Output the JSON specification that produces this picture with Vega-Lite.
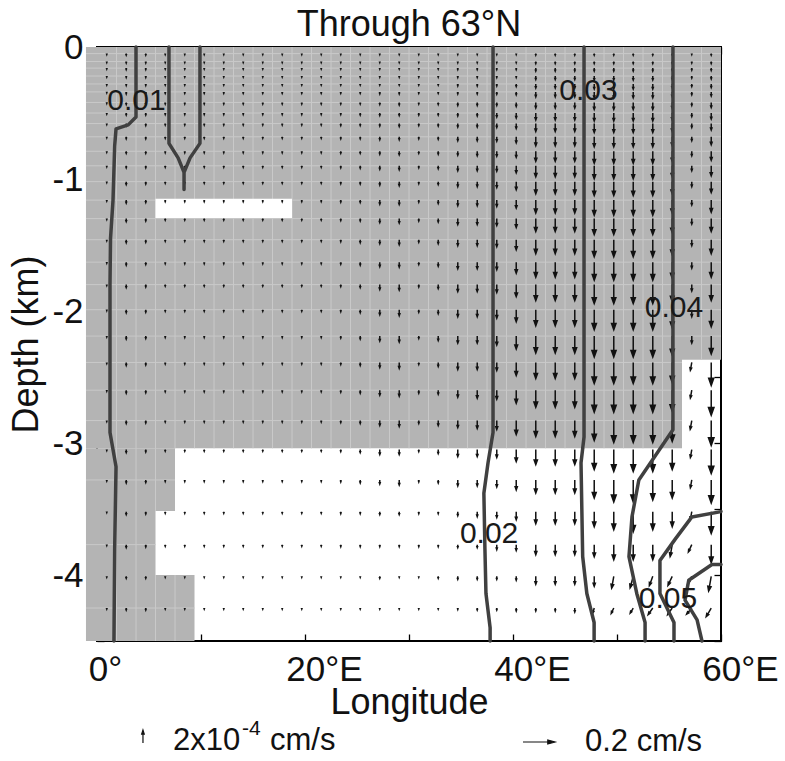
{
"$schema":"https://vega.github.io/schema/vega-lite/v6.json",
"width":624,"height":594,"autosize":"none",
"padding":{"left":97,"top":47,"right":64,"bottom":120},
"background":"white",
"title":{"text":"Through 63°N","fontSize":36,"font":"Liberation Sans","fontWeight":"normal","color":"#111","offset":-14,"anchor":"middle","frame":"group"},
"config":{"view":{"stroke":"#000","strokeWidth":2},"font":"Liberation Sans",
"axis":{"labelFont":"Liberation Sans","titleFont":"Liberation Sans","labelFontSize":35,"titleFontSize":36,"titleFontWeight":"normal","labelColor":"#111","titleColor":"#111","tickColor":"#000","tickWidth":1.3,"tickSize":-7,"domain":false,"grid":false,"labelOverlap":false,"labelFlush":false}},
"datasets":{
"gray":[{"x":-1.06,"x2":56.25,"z":0,"z2":-3.04},{"x":56.25,"x2":60,"z":0,"z2":-2.37},{"x":-1.06,"x2":7.5,"z":-3.04,"z2":-3.515},{"x":-1.06,"x2":5.625,"z":-3.515,"z2":-4.0},{"x":-1.06,"x2":9.375,"z":-4.0,"z2":-4.5}],
"bar":[{"x":5.625,"x2":18.75,"z":-1.15,"z2":-1.295}],
"vgrid":[{"x":1.875,"z":0,"z2":-3.04},{"x":3.75,"z":0,"z2":-3.04},{"x":5.625,"z":0,"z2":-3.04},{"x":7.5,"z":0,"z2":-3.04},{"x":9.375,"z":0,"z2":-3.04},{"x":11.25,"z":0,"z2":-3.04},{"x":13.125,"z":0,"z2":-3.04},{"x":15,"z":0,"z2":-3.04},{"x":16.875,"z":0,"z2":-3.04},{"x":18.75,"z":0,"z2":-3.04},{"x":20.625,"z":0,"z2":-3.04},{"x":22.5,"z":0,"z2":-3.04},{"x":24.375,"z":0,"z2":-3.04},{"x":26.25,"z":0,"z2":-3.04},{"x":28.125,"z":0,"z2":-3.04},{"x":30,"z":0,"z2":-3.04},{"x":31.875,"z":0,"z2":-3.04},{"x":33.75,"z":0,"z2":-3.04},{"x":35.625,"z":0,"z2":-3.04},{"x":37.5,"z":0,"z2":-3.04},{"x":39.375,"z":0,"z2":-3.04},{"x":41.25,"z":0,"z2":-3.04},{"x":43.125,"z":0,"z2":-3.04},{"x":45,"z":0,"z2":-3.04},{"x":46.875,"z":0,"z2":-3.04},{"x":48.75,"z":0,"z2":-3.04},{"x":50.625,"z":0,"z2":-3.04},{"x":52.5,"z":0,"z2":-3.04},{"x":54.375,"z":0,"z2":-3.04},{"x":58.125,"z":0,"z2":-2.37},{"x":1.875,"z":-3.04,"z2":-4.5},{"x":3.75,"z":-3.04,"z2":-4.5},{"x":5.625,"z":-3.04,"z2":-3.515},{"x":5.625,"z":-4,"z2":-4.5},{"x":7.5,"z":-4,"z2":-4.5}],
"hgrid":[{"z":-0.05,"x":-1.06,"x2":60},{"z":-0.11,"x":-1.06,"x2":60},{"z":-0.16,"x":-1.06,"x2":60},{"z":-0.22,"x":-1.06,"x2":60},{"z":-0.28,"x":-1.06,"x2":60},{"z":-0.34,"x":-1.06,"x2":60},{"z":-0.42,"x":-1.06,"x2":60},{"z":-0.5,"x":-1.06,"x2":60},{"z":-0.58,"x":-1.06,"x2":60},{"z":-0.68,"x":-1.06,"x2":60},{"z":-0.79,"x":-1.06,"x2":60},{"z":-0.9,"x":-1.06,"x2":60},{"z":-1.02,"x":-1.06,"x2":60},{"z":-1.16,"x":-1.06,"x2":60},{"z":-1.3,"x":-1.06,"x2":60},{"z":-1.46,"x":-1.06,"x2":60},{"z":-1.63,"x":-1.06,"x2":60},{"z":-1.8,"x":-1.06,"x2":60},{"z":-1.99,"x":-1.06,"x2":60},{"z":-2.19,"x":-1.06,"x2":60},{"z":-2.39,"x":-1.06,"x2":56.25},{"z":-2.6,"x":-1.06,"x2":56.25},{"z":-2.83,"x":-1.06,"x2":56.25},{"z":-3.28,"x":-1.06,"x2":7.5},{"z":-3.77,"x":-1.06,"x2":5.625},{"z":-4.25,"x":-1.06,"x2":9.375}],
"arrows":[
{"x":0.94,"z":-0.05,"w":0.15},{"x":2.81,"z":-0.05,"w":0.23},{"x":4.69,"z":-0.05,"w":0.23},{"x":6.56,"z":-0.05,"w":0.15},{"x":8.44,"z":-0.05,"w":0.15},{"x":10.31,"z":-0.05,"w":0.15},{"x":12.19,"z":-0.05,"w":0.15},{"x":14.06,"z":-0.05,"w":0.15},{"x":15.94,"z":-0.05,"w":0.15},{"x":17.81,"z":-0.05,"w":0.15},{"x":19.69,"z":-0.05,"w":0.15},{"x":21.56,"z":-0.05,"w":0.15},{"x":23.44,"z":-0.05,"w":0.15},{"x":25.31,"z":-0.05,"w":0.15},{"x":27.19,"z":-0.05,"w":0.15},{"x":29.06,"z":-0.05,"w":0.15},{"x":30.94,"z":-0.05,"w":0.15},{"x":32.81,"z":-0.05,"w":0.15},{"x":34.69,"z":-0.05,"w":0.15},{"x":36.56,"z":-0.05,"w":0.15},{"x":38.44,"z":-0.05,"w":0.15},{"x":40.31,"z":-0.05,"w":0.15},{"x":42.19,"z":-0.05,"w":0.23},{"x":44.06,"z":-0.05,"w":0.23},{"x":45.94,"z":-0.05,"w":0.23},{"x":47.81,"z":-0.05,"w":0.23},{"x":49.69,"z":-0.05,"w":0.23},{"x":51.56,"z":-0.05,"w":0.23},{"x":53.44,"z":-0.05,"w":0.23},{"x":55.31,"z":-0.05,"w":0.23},{"x":57.19,"z":-0.05,"w":0.15},{"x":59.06,"z":-0.05,"w":0.23},
{"x":0.94,"z":-0.11,"w":0.15},{"x":2.81,"z":-0.11,"w":0.23},{"x":4.69,"z":-0.11,"w":0.23},{"x":6.56,"z":-0.11,"w":0.15},{"x":8.44,"z":-0.11,"w":0.15},{"x":10.31,"z":-0.11,"w":0.15},{"x":12.19,"z":-0.11,"w":0.15},{"x":14.06,"z":-0.11,"w":0.15},{"x":15.94,"z":-0.11,"w":0.15},{"x":17.81,"z":-0.11,"w":0.15},{"x":19.69,"z":-0.11,"w":0.15},{"x":21.56,"z":-0.11,"w":0.15},{"x":23.44,"z":-0.11,"w":0.15},{"x":25.31,"z":-0.11,"w":0.15},{"x":27.19,"z":-0.11,"w":0.15},{"x":29.06,"z":-0.11,"w":0.15},{"x":30.94,"z":-0.11,"w":0.15},{"x":32.81,"z":-0.11,"w":0.15},{"x":34.69,"z":-0.11,"w":0.18},{"x":36.56,"z":-0.11,"w":0.18},{"x":38.44,"z":-0.11,"w":0.18},{"x":40.31,"z":-0.11,"w":0.18},{"x":42.19,"z":-0.11,"w":0.31},{"x":44.06,"z":-0.11,"w":0.31},{"x":45.94,"z":-0.11,"w":0.31},{"x":47.81,"z":-0.11,"w":0.31},{"x":49.69,"z":-0.11,"w":0.31},{"x":51.56,"z":-0.11,"w":0.31},{"x":53.44,"z":-0.11,"w":0.31},{"x":55.31,"z":-0.11,"w":0.31},{"x":57.19,"z":-0.11,"w":0.23},{"x":59.06,"z":-0.11,"w":0.31},
{"x":0.94,"z":-0.16,"w":0.15},{"x":2.81,"z":-0.16,"w":0.23},{"x":4.69,"z":-0.16,"w":0.23},{"x":6.56,"z":-0.16,"w":0.15},{"x":8.44,"z":-0.16,"w":0.15},{"x":10.31,"z":-0.16,"w":0.15},{"x":12.19,"z":-0.16,"w":0.15},{"x":14.06,"z":-0.16,"w":0.15},{"x":15.94,"z":-0.16,"w":0.15},{"x":17.81,"z":-0.16,"w":0.15},{"x":19.69,"z":-0.16,"w":0.15},{"x":21.56,"z":-0.16,"w":0.15},{"x":23.44,"z":-0.16,"w":0.15},{"x":25.31,"z":-0.16,"w":0.15},{"x":27.19,"z":-0.16,"w":0.15},{"x":29.06,"z":-0.16,"w":0.15},{"x":30.94,"z":-0.16,"w":0.15},{"x":32.81,"z":-0.16,"w":0.15},{"x":34.69,"z":-0.16,"w":0.23},{"x":36.56,"z":-0.16,"w":0.23},{"x":38.44,"z":-0.16,"w":0.23},{"x":40.31,"z":-0.16,"w":0.23},{"x":42.19,"z":-0.16,"w":0.46},{"x":44.06,"z":-0.16,"w":0.46},{"x":45.94,"z":-0.16,"w":0.46},{"x":47.81,"z":-0.16,"w":0.46},{"x":49.69,"z":-0.16,"w":0.46},{"x":51.56,"z":-0.16,"w":0.46},{"x":53.44,"z":-0.16,"w":0.46},{"x":55.31,"z":-0.16,"w":0.38},{"x":57.19,"z":-0.16,"w":0.31},{"x":59.06,"z":-0.16,"w":0.38},
{"x":0.94,"z":-0.22,"w":0.15},{"x":2.81,"z":-0.22,"w":0.23},{"x":4.69,"z":-0.22,"w":0.23},{"x":6.56,"z":-0.22,"w":0.15},{"x":8.44,"z":-0.22,"w":0.15},{"x":10.31,"z":-0.22,"w":0.15},{"x":12.19,"z":-0.22,"w":0.15},{"x":14.06,"z":-0.22,"w":0.15},{"x":15.94,"z":-0.22,"w":0.15},{"x":17.81,"z":-0.22,"w":0.15},{"x":19.69,"z":-0.22,"w":0.15},{"x":21.56,"z":-0.22,"w":0.15},{"x":23.44,"z":-0.22,"w":0.18},{"x":25.31,"z":-0.22,"w":0.18},{"x":27.19,"z":-0.22,"w":0.18},{"x":29.06,"z":-0.22,"w":0.18},{"x":30.94,"z":-0.22,"w":0.18},{"x":32.81,"z":-0.22,"w":0.18},{"x":34.69,"z":-0.22,"w":0.23},{"x":36.56,"z":-0.22,"w":0.23},{"x":38.44,"z":-0.22,"w":0.23},{"x":40.31,"z":-0.22,"w":0.23},{"x":42.19,"z":-0.22,"w":0.54},{"x":44.06,"z":-0.22,"w":0.54},{"x":45.94,"z":-0.22,"w":0.54},{"x":47.81,"z":-0.22,"w":0.62},{"x":49.69,"z":-0.22,"w":0.62},{"x":51.56,"z":-0.22,"w":0.62},{"x":53.44,"z":-0.22,"w":0.62},{"x":55.31,"z":-0.22,"w":0.54},{"x":57.19,"z":-0.22,"w":0.31},{"x":59.06,"z":-0.22,"w":0.46},
{"x":0.94,"z":-0.28,"w":0.15},{"x":2.81,"z":-0.28,"w":0.23},{"x":4.69,"z":-0.28,"w":0.23},{"x":6.56,"z":-0.28,"w":0.15},{"x":8.44,"z":-0.28,"w":0.15},{"x":10.31,"z":-0.28,"w":0.15},{"x":12.19,"z":-0.28,"w":0.15},{"x":14.06,"z":-0.28,"w":0.15},{"x":15.94,"z":-0.28,"w":0.15},{"x":17.81,"z":-0.28,"w":0.15},{"x":19.69,"z":-0.28,"w":0.15},{"x":21.56,"z":-0.28,"w":0.15},{"x":23.44,"z":-0.28,"w":0.18},{"x":25.31,"z":-0.28,"w":0.18},{"x":27.19,"z":-0.28,"w":0.18},{"x":29.06,"z":-0.28,"w":0.18},{"x":30.94,"z":-0.28,"w":0.18},{"x":32.81,"z":-0.28,"w":0.18},{"x":34.69,"z":-0.28,"w":0.31},{"x":36.56,"z":-0.28,"w":0.31},{"x":38.44,"z":-0.28,"w":0.31},{"x":40.31,"z":-0.28,"w":0.38},{"x":42.19,"z":-0.28,"w":0.62},{"x":44.06,"z":-0.28,"w":0.62},{"x":45.94,"z":-0.28,"w":0.62},{"x":47.81,"z":-0.28,"w":0.77},{"x":49.69,"z":-0.28,"w":0.77},{"x":51.56,"z":-0.28,"w":0.77},{"x":53.44,"z":-0.28,"w":0.77},{"x":55.31,"z":-0.28,"w":0.62},{"x":57.19,"z":-0.28,"w":0.38},{"x":59.06,"z":-0.28,"w":0.54},
{"x":0.94,"z":-0.34,"w":0.15},{"x":2.81,"z":-0.34,"w":0.31},{"x":4.69,"z":-0.34,"w":0.31},{"x":6.56,"z":-0.34,"w":0.23},{"x":8.44,"z":-0.34,"w":0.23},{"x":10.31,"z":-0.34,"w":0.23},{"x":12.19,"z":-0.34,"w":0.23},{"x":14.06,"z":-0.34,"w":0.23},{"x":15.94,"z":-0.34,"w":0.23},{"x":17.81,"z":-0.34,"w":0.23},{"x":19.69,"z":-0.34,"w":0.23},{"x":21.56,"z":-0.34,"w":0.23},{"x":23.44,"z":-0.34,"w":0.23},{"x":25.31,"z":-0.34,"w":0.23},{"x":27.19,"z":-0.34,"w":0.31},{"x":29.06,"z":-0.34,"w":0.31},{"x":30.94,"z":-0.34,"w":0.23},{"x":32.81,"z":-0.34,"w":0.23},{"x":34.69,"z":-0.34,"w":0.31},{"x":36.56,"z":-0.34,"w":0.31},{"x":38.44,"z":-0.34,"w":0.38},{"x":40.31,"z":-0.34,"w":0.46},{"x":42.19,"z":-0.34,"w":0.77},{"x":44.06,"z":-0.34,"w":0.77},{"x":45.94,"z":-0.34,"w":0.77},{"x":47.81,"z":-0.34,"w":0.92},{"x":49.69,"z":-0.34,"w":0.92},{"x":51.56,"z":-0.34,"w":0.92},{"x":53.44,"z":-0.34,"w":0.92},{"x":55.31,"z":-0.34,"w":0.77},{"x":57.19,"z":-0.34,"w":0.46},{"x":59.06,"z":-0.34,"w":0.62},
{"x":0.94,"z":-0.42,"w":0.15},{"x":2.81,"z":-0.42,"w":0.31},{"x":4.69,"z":-0.42,"w":0.31},{"x":6.56,"z":-0.42,"w":0.23},{"x":8.44,"z":-0.42,"w":0.23},{"x":10.31,"z":-0.42,"w":0.23},{"x":12.19,"z":-0.42,"w":0.23},{"x":14.06,"z":-0.42,"w":0.23},{"x":15.94,"z":-0.42,"w":0.23},{"x":17.81,"z":-0.42,"w":0.23},{"x":19.69,"z":-0.42,"w":0.23},{"x":21.56,"z":-0.42,"w":0.23},{"x":23.44,"z":-0.42,"w":0.23},{"x":25.31,"z":-0.42,"w":0.23},{"x":27.19,"z":-0.42,"w":0.31},{"x":29.06,"z":-0.42,"w":0.38},{"x":30.94,"z":-0.42,"w":0.23},{"x":32.81,"z":-0.42,"w":0.31},{"x":34.69,"z":-0.42,"w":0.46},{"x":36.56,"z":-0.42,"w":0.46},{"x":38.44,"z":-0.42,"w":0.46},{"x":40.31,"z":-0.42,"w":0.62},{"x":42.19,"z":-0.42,"w":0.85},{"x":44.06,"z":-0.42,"w":0.85},{"x":45.94,"z":-0.42,"w":0.85},{"x":47.81,"z":-0.42,"w":1.08},{"x":49.69,"z":-0.42,"w":1.08},{"x":51.56,"z":-0.42,"w":1.08},{"x":53.44,"z":-0.42,"w":1.08},{"x":55.31,"z":-0.42,"w":0.92},{"x":57.19,"z":-0.42,"w":0.46},{"x":59.06,"z":-0.42,"w":0.77},
{"x":0.94,"z":-0.5,"w":0.15},{"x":2.81,"z":-0.5,"w":0.31},{"x":4.69,"z":-0.5,"w":0.31},{"x":6.56,"z":-0.5,"w":0.23},{"x":8.44,"z":-0.5,"w":0.23},{"x":10.31,"z":-0.5,"w":0.23},{"x":12.19,"z":-0.5,"w":0.23},{"x":14.06,"z":-0.5,"w":0.23},{"x":15.94,"z":-0.5,"w":0.23},{"x":17.81,"z":-0.5,"w":0.23},{"x":19.69,"z":-0.5,"w":0.23},{"x":21.56,"z":-0.5,"w":0.23},{"x":23.44,"z":-0.5,"w":0.23},{"x":25.31,"z":-0.5,"w":0.31},{"x":27.19,"z":-0.5,"w":0.38},{"x":29.06,"z":-0.5,"w":0.38},{"x":30.94,"z":-0.5,"w":0.31},{"x":32.81,"z":-0.5,"w":0.31},{"x":34.69,"z":-0.5,"w":0.46},{"x":36.56,"z":-0.5,"w":0.46},{"x":38.44,"z":-0.5,"w":0.62},{"x":40.31,"z":-0.5,"w":0.77},{"x":42.19,"z":-0.5,"w":1.08},{"x":44.06,"z":-0.5,"w":1.08},{"x":45.94,"z":-0.5,"w":1.08},{"x":47.81,"z":-0.5,"w":1.23},{"x":49.69,"z":-0.5,"w":1.23},{"x":51.56,"z":-0.5,"w":1.23},{"x":53.44,"z":-0.5,"w":1.23},{"x":55.31,"z":-0.5,"w":1.08},{"x":57.19,"z":-0.5,"w":0.54},{"x":59.06,"z":-0.5,"w":0.92},
{"x":0.94,"z":-0.58,"w":0.15},{"x":2.81,"z":-0.58,"w":0.31},{"x":4.69,"z":-0.58,"w":0.31},{"x":6.56,"z":-0.58,"w":0.23},{"x":8.44,"z":-0.58,"w":0.23},{"x":10.31,"z":-0.58,"w":0.23},{"x":12.19,"z":-0.58,"w":0.23},{"x":14.06,"z":-0.58,"w":0.23},{"x":15.94,"z":-0.58,"w":0.23},{"x":17.81,"z":-0.58,"w":0.23},{"x":19.69,"z":-0.58,"w":0.23},{"x":21.56,"z":-0.58,"w":0.23},{"x":23.44,"z":-0.58,"w":0.31},{"x":25.31,"z":-0.58,"w":0.31},{"x":27.19,"z":-0.58,"w":0.38},{"x":29.06,"z":-0.58,"w":0.46},{"x":30.94,"z":-0.58,"w":0.31},{"x":32.81,"z":-0.58,"w":0.38},{"x":34.69,"z":-0.58,"w":0.54},{"x":36.56,"z":-0.58,"w":0.54},{"x":38.44,"z":-0.58,"w":0.62},{"x":40.31,"z":-0.58,"w":0.77},{"x":42.19,"z":-0.58,"w":1.23},{"x":44.06,"z":-0.58,"w":1.23},{"x":45.94,"z":-0.58,"w":1.23},{"x":47.81,"z":-0.58,"w":1.38},{"x":49.69,"z":-0.58,"w":1.38},{"x":51.56,"z":-0.58,"w":1.38},{"x":53.44,"z":-0.58,"w":1.38},{"x":55.31,"z":-0.58,"w":1.23},{"x":57.19,"z":-0.58,"w":0.62},{"x":59.06,"z":-0.58,"w":1.0},
{"x":0.94,"z":-0.68,"w":0.15},{"x":2.81,"z":-0.68,"w":0.31},{"x":4.69,"z":-0.68,"w":0.31},{"x":6.56,"z":-0.68,"w":0.23},{"x":8.44,"z":-0.68,"w":0.23},{"x":10.31,"z":-0.68,"w":0.23},{"x":12.19,"z":-0.68,"w":0.23},{"x":14.06,"z":-0.68,"w":0.23},{"x":15.94,"z":-0.68,"w":0.23},{"x":17.81,"z":-0.68,"w":0.23},{"x":19.69,"z":-0.68,"w":0.23},{"x":21.56,"z":-0.68,"w":0.23},{"x":23.44,"z":-0.68,"w":0.31},{"x":25.31,"z":-0.68,"w":0.31},{"x":27.19,"z":-0.68,"w":0.46},{"x":29.06,"z":-0.68,"w":0.46},{"x":30.94,"z":-0.68,"w":0.31},{"x":32.81,"z":-0.68,"w":0.38},{"x":34.69,"z":-0.68,"w":0.62},{"x":36.56,"z":-0.68,"w":0.62},{"x":38.44,"z":-0.68,"w":0.69},{"x":40.31,"z":-0.68,"w":0.92},{"x":42.19,"z":-0.68,"w":1.38},{"x":44.06,"z":-0.68,"w":1.38},{"x":45.94,"z":-0.68,"w":1.38},{"x":47.81,"z":-0.68,"w":1.54},{"x":49.69,"z":-0.68,"w":1.54},{"x":51.56,"z":-0.68,"w":1.54},{"x":53.44,"z":-0.68,"w":1.54},{"x":55.31,"z":-0.68,"w":1.38},{"x":57.19,"z":-0.68,"w":0.62},{"x":59.06,"z":-0.68,"w":1.23},
{"x":0.94,"z":-0.79,"w":0.15},{"x":2.81,"z":-0.79,"w":0.31},{"x":4.69,"z":-0.79,"w":0.31},{"x":6.56,"z":-0.79,"w":0.23},{"x":8.44,"z":-0.79,"w":0.23},{"x":10.31,"z":-0.79,"w":0.23},{"x":12.19,"z":-0.79,"w":0.23},{"x":14.06,"z":-0.79,"w":0.23},{"x":15.94,"z":-0.79,"w":0.23},{"x":17.81,"z":-0.79,"w":0.23},{"x":19.69,"z":-0.79,"w":0.23},{"x":21.56,"z":-0.79,"w":0.23},{"x":23.44,"z":-0.79,"w":0.31},{"x":25.31,"z":-0.79,"w":0.31},{"x":27.19,"z":-0.79,"w":0.46},{"x":29.06,"z":-0.79,"w":0.54},{"x":30.94,"z":-0.79,"w":0.31},{"x":32.81,"z":-0.79,"w":0.46},{"x":34.69,"z":-0.79,"w":0.62},{"x":36.56,"z":-0.79,"w":0.69},{"x":38.44,"z":-0.79,"w":0.77},{"x":40.31,"z":-0.79,"w":0.92},{"x":42.19,"z":-0.79,"w":1.54},{"x":44.06,"z":-0.79,"w":1.54},{"x":45.94,"z":-0.79,"w":1.54},{"x":47.81,"z":-0.79,"w":1.85},{"x":49.69,"z":-0.79,"w":1.85},{"x":51.56,"z":-0.79,"w":1.85},{"x":53.44,"z":-0.79,"w":1.85},{"x":55.31,"z":-0.79,"w":1.54},{"x":57.19,"z":-0.79,"w":0.69},{"x":59.06,"z":-0.79,"w":1.38},
{"x":0.94,"z":-0.9,"w":0.15},{"x":2.81,"z":-0.9,"w":0.31},{"x":4.69,"z":-0.9,"w":0.31},{"x":6.56,"z":-0.9,"w":0.23},{"x":8.44,"z":-0.9,"w":0.23},{"x":10.31,"z":-0.9,"w":0.23},{"x":12.19,"z":-0.9,"w":0.23},{"x":14.06,"z":-0.9,"w":0.23},{"x":15.94,"z":-0.9,"w":0.23},{"x":17.81,"z":-0.9,"w":0.23},{"x":19.69,"z":-0.9,"w":0.23},{"x":21.56,"z":-0.9,"w":0.23},{"x":23.44,"z":-0.9,"w":0.31},{"x":25.31,"z":-0.9,"w":0.38},{"x":27.19,"z":-0.9,"w":0.54},{"x":29.06,"z":-0.9,"w":0.62},{"x":30.94,"z":-0.9,"w":0.31},{"x":32.81,"z":-0.9,"w":0.46},{"x":34.69,"z":-0.9,"w":0.77},{"x":36.56,"z":-0.9,"w":0.77},{"x":38.44,"z":-0.9,"w":0.85},{"x":40.31,"z":-0.9,"w":1.08},{"x":42.19,"z":-0.9,"w":1.69},{"x":44.06,"z":-0.9,"w":1.69},{"x":45.94,"z":-0.9,"w":1.69},{"x":47.81,"z":-0.9,"w":2.0},{"x":49.69,"z":-0.9,"w":2.0},{"x":51.56,"z":-0.9,"w":2.0},{"x":53.44,"z":-0.9,"w":2.0},{"x":55.31,"z":-0.9,"w":1.69},{"x":57.19,"z":-0.9,"w":0.77},{"x":59.06,"z":-0.9,"w":1.54},
{"x":0.94,"z":-1.02,"w":0.15},{"x":2.81,"z":-1.02,"w":0.46},{"x":4.69,"z":-1.02,"w":0.38},{"x":6.56,"z":-1.02,"w":0.23},{"x":8.44,"z":-1.02,"w":0.23},{"x":10.31,"z":-1.02,"w":0.23},{"x":12.19,"z":-1.02,"w":0.23},{"x":14.06,"z":-1.02,"w":0.23},{"x":15.94,"z":-1.02,"w":0.23},{"x":17.81,"z":-1.02,"w":0.23},{"x":19.69,"z":-1.02,"w":0.23},{"x":21.56,"z":-1.02,"w":0.23},{"x":23.44,"z":-1.02,"w":0.31},{"x":25.31,"z":-1.02,"w":0.38},{"x":27.19,"z":-1.02,"w":0.54},{"x":29.06,"z":-1.02,"w":0.62},{"x":30.94,"z":-1.02,"w":0.31},{"x":32.81,"z":-1.02,"w":0.46},{"x":34.69,"z":-1.02,"w":0.77},{"x":36.56,"z":-1.02,"w":0.77},{"x":38.44,"z":-1.02,"w":0.92},{"x":40.31,"z":-1.02,"w":1.23},{"x":42.19,"z":-1.02,"w":1.85},{"x":44.06,"z":-1.02,"w":1.85},{"x":45.94,"z":-1.02,"w":1.85},{"x":47.81,"z":-1.02,"w":2.15},{"x":49.69,"z":-1.02,"w":2.15},{"x":51.56,"z":-1.02,"w":2.15},{"x":53.44,"z":-1.02,"w":2.15},{"x":55.31,"z":-1.02,"w":1.85},{"x":57.19,"z":-1.02,"w":0.77},{"x":59.06,"z":-1.02,"w":1.69},
{"x":0.94,"z":-1.16,"w":0.15},{"x":2.81,"z":-1.16,"w":0.46},{"x":4.69,"z":-1.16,"w":0.38},{"x":6.56,"z":-1.16,"w":0.23},{"x":8.44,"z":-1.16,"w":0.23},{"x":10.31,"z":-1.16,"w":0.23},{"x":12.19,"z":-1.16,"w":0.23},{"x":14.06,"z":-1.16,"w":0.23},{"x":15.94,"z":-1.16,"w":0.23},{"x":17.81,"z":-1.16,"w":0.23},{"x":19.69,"z":-1.16,"w":0.23},{"x":21.56,"z":-1.16,"w":0.23},{"x":23.44,"z":-1.16,"w":0.31},{"x":25.31,"z":-1.16,"w":0.38},{"x":27.19,"z":-1.16,"w":0.62},{"x":29.06,"z":-1.16,"w":0.69},{"x":30.94,"z":-1.16,"w":0.31},{"x":32.81,"z":-1.16,"w":0.54},{"x":34.69,"z":-1.16,"w":0.85},{"x":36.56,"z":-1.16,"w":0.85},{"x":38.44,"z":-1.16,"w":1.0},{"x":40.31,"z":-1.16,"w":1.23},{"x":42.19,"z":-1.16,"w":2.0},{"x":44.06,"z":-1.16,"w":2.0},{"x":45.94,"z":-1.16,"w":2.0},{"x":47.81,"z":-1.16,"w":2.31},{"x":49.69,"z":-1.16,"w":2.31},{"x":51.56,"z":-1.16,"w":2.31},{"x":53.44,"z":-1.16,"w":2.31},{"x":55.31,"z":-1.16,"w":2.0},{"x":57.19,"z":-1.16,"w":0.77},{"x":59.06,"z":-1.16,"w":1.85},
{"x":0.94,"z":-1.3,"w":0.15},{"x":2.81,"z":-1.3,"w":0.46},{"x":4.69,"z":-1.3,"w":0.38},{"x":6.56,"z":-1.3,"w":0.23},{"x":8.44,"z":-1.3,"w":0.23},{"x":10.31,"z":-1.3,"w":0.23},{"x":12.19,"z":-1.3,"w":0.23},{"x":14.06,"z":-1.3,"w":0.23},{"x":15.94,"z":-1.3,"w":0.23},{"x":17.81,"z":-1.3,"w":0.23},{"x":19.69,"z":-1.3,"w":0.23},{"x":21.56,"z":-1.3,"w":0.23},{"x":23.44,"z":-1.3,"w":0.31},{"x":25.31,"z":-1.3,"w":0.38},{"x":27.19,"z":-1.3,"w":0.62},{"x":29.06,"z":-1.3,"w":0.69},{"x":30.94,"z":-1.3,"w":0.38},{"x":32.81,"z":-1.3,"w":0.54},{"x":34.69,"z":-1.3,"w":0.92},{"x":36.56,"z":-1.3,"w":0.92},{"x":38.44,"z":-1.3,"w":1.08},{"x":40.31,"z":-1.3,"w":1.38},{"x":42.19,"z":-1.3,"w":2.0},{"x":44.06,"z":-1.3,"w":2.0},{"x":45.94,"z":-1.3,"w":2.0},{"x":47.81,"z":-1.3,"w":2.46},{"x":49.69,"z":-1.3,"w":2.46},{"x":51.56,"z":-1.3,"w":2.46},{"x":53.44,"z":-1.3,"w":2.46},{"x":55.31,"z":-1.3,"w":2.15},{"x":57.19,"z":-1.3,"w":0.85},{"x":59.06,"z":-1.3,"w":2.0},
{"x":0.94,"z":-1.46,"w":0.15},{"x":2.81,"z":-1.46,"w":0.46},{"x":4.69,"z":-1.46,"w":0.38},{"x":6.56,"z":-1.46,"w":0.23},{"x":8.44,"z":-1.46,"w":0.23},{"x":10.31,"z":-1.46,"w":0.23},{"x":12.19,"z":-1.46,"w":0.23},{"x":14.06,"z":-1.46,"w":0.23},{"x":15.94,"z":-1.46,"w":0.23},{"x":17.81,"z":-1.46,"w":0.23},{"x":19.69,"z":-1.46,"w":0.23},{"x":21.56,"z":-1.46,"w":0.23},{"x":23.44,"z":-1.46,"w":0.31},{"x":25.31,"z":-1.46,"w":0.46},{"x":27.19,"z":-1.46,"w":0.62},{"x":29.06,"z":-1.46,"w":0.77},{"x":30.94,"z":-1.46,"w":0.38},{"x":32.81,"z":-1.46,"w":0.62},{"x":34.69,"z":-1.46,"w":0.92},{"x":36.56,"z":-1.46,"w":0.92},{"x":38.44,"z":-1.46,"w":1.08},{"x":40.31,"z":-1.46,"w":1.54},{"x":42.19,"z":-1.46,"w":2.15},{"x":44.06,"z":-1.46,"w":2.15},{"x":45.94,"z":-1.46,"w":2.15},{"x":47.81,"z":-1.46,"w":2.62},{"x":49.69,"z":-1.46,"w":2.62},{"x":51.56,"z":-1.46,"w":2.62},{"x":53.44,"z":-1.46,"w":2.62},{"x":55.31,"z":-1.46,"w":2.31},{"x":57.19,"z":-1.46,"w":0.92},{"x":59.06,"z":-1.46,"w":2.15},
{"x":0.94,"z":-1.63,"w":0.15},{"x":2.81,"z":-1.63,"w":0.46},{"x":4.69,"z":-1.63,"w":0.38},{"x":6.56,"z":-1.63,"w":0.23},{"x":8.44,"z":-1.63,"w":0.23},{"x":10.31,"z":-1.63,"w":0.23},{"x":12.19,"z":-1.63,"w":0.23},{"x":14.06,"z":-1.63,"w":0.23},{"x":15.94,"z":-1.63,"w":0.23},{"x":17.81,"z":-1.63,"w":0.23},{"x":19.69,"z":-1.63,"w":0.23},{"x":21.56,"z":-1.63,"w":0.23},{"x":23.44,"z":-1.63,"w":0.31},{"x":25.31,"z":-1.63,"w":0.46},{"x":27.19,"z":-1.63,"w":0.69},{"x":29.06,"z":-1.63,"w":0.77},{"x":30.94,"z":-1.63,"w":0.38},{"x":32.81,"z":-1.63,"w":0.62},{"x":34.69,"z":-1.63,"w":1.0},{"x":36.56,"z":-1.63,"w":1.0},{"x":38.44,"z":-1.63,"w":1.15},{"x":40.31,"z":-1.63,"w":1.69},{"x":42.19,"z":-1.63,"w":2.31},{"x":44.06,"z":-1.63,"w":2.31},{"x":45.94,"z":-1.63,"w":2.31},{"x":47.81,"z":-1.63,"w":2.77},{"x":49.69,"z":-1.63,"w":2.77},{"x":51.56,"z":-1.63,"w":2.77},{"x":53.44,"z":-1.63,"w":2.77},{"x":55.31,"z":-1.63,"w":2.46},{"x":57.19,"z":-1.63,"w":0.92},{"x":59.06,"z":-1.63,"w":2.31},
{"x":0.94,"z":-1.8,"w":0.15},{"x":2.81,"z":-1.8,"w":0.46},{"x":4.69,"z":-1.8,"w":0.38},{"x":6.56,"z":-1.8,"w":0.23},{"x":8.44,"z":-1.8,"w":0.23},{"x":10.31,"z":-1.8,"w":0.23},{"x":12.19,"z":-1.8,"w":0.23},{"x":14.06,"z":-1.8,"w":0.23},{"x":15.94,"z":-1.8,"w":0.23},{"x":17.81,"z":-1.8,"w":0.23},{"x":19.69,"z":-1.8,"w":0.23},{"x":21.56,"z":-1.8,"w":0.23},{"x":23.44,"z":-1.8,"w":0.31},{"x":25.31,"z":-1.8,"w":0.46},{"x":27.19,"z":-1.8,"w":0.77},{"x":29.06,"z":-1.8,"w":0.85},{"x":30.94,"z":-1.8,"w":0.38},{"x":32.81,"z":-1.8,"w":0.62},{"x":34.69,"z":-1.8,"w":1.08},{"x":36.56,"z":-1.8,"w":1.08},{"x":38.44,"z":-1.8,"w":1.23},{"x":40.31,"z":-1.8,"w":1.85},{"x":42.19,"z":-1.8,"w":2.46},{"x":44.06,"z":-1.8,"w":2.46},{"x":45.94,"z":-1.8,"w":2.46},{"x":47.81,"z":-1.8,"w":2.92},{"x":49.69,"z":-1.8,"w":2.92},{"x":51.56,"z":-1.8,"w":2.92},{"x":53.44,"z":-1.8,"w":2.92},{"x":55.31,"z":-1.8,"w":2.62},{"x":57.19,"z":-1.8,"w":1.0},{"x":59.06,"z":-1.8,"w":2.46},
{"x":0.94,"z":-1.99,"w":0.15},{"x":2.81,"z":-1.99,"w":0.46},{"x":4.69,"z":-1.99,"w":0.38},{"x":6.56,"z":-1.99,"w":0.23},{"x":8.44,"z":-1.99,"w":0.23},{"x":10.31,"z":-1.99,"w":0.23},{"x":12.19,"z":-1.99,"w":0.23},{"x":14.06,"z":-1.99,"w":0.23},{"x":15.94,"z":-1.99,"w":0.23},{"x":17.81,"z":-1.99,"w":0.23},{"x":19.69,"z":-1.99,"w":0.23},{"x":21.56,"z":-1.99,"w":0.23},{"x":23.44,"z":-1.99,"w":0.31},{"x":25.31,"z":-1.99,"w":0.46},{"x":27.19,"z":-1.99,"w":0.77},{"x":29.06,"z":-1.99,"w":0.92},{"x":30.94,"z":-1.99,"w":0.38},{"x":32.81,"z":-1.99,"w":0.62},{"x":34.69,"z":-1.99,"w":1.08},{"x":36.56,"z":-1.99,"w":1.08},{"x":38.44,"z":-1.99,"w":1.31},{"x":40.31,"z":-1.99,"w":1.85},{"x":42.19,"z":-1.99,"w":2.46},{"x":44.06,"z":-1.99,"w":2.46},{"x":45.94,"z":-1.99,"w":2.46},{"x":47.81,"z":-1.99,"w":3.08},{"x":49.69,"z":-1.99,"w":3.08},{"x":51.56,"z":-1.99,"w":3.08},{"x":53.44,"z":-1.99,"w":3.08},{"x":55.31,"z":-1.99,"w":2.77},{"x":57.19,"z":-1.99,"w":1.08},{"x":59.06,"z":-1.99,"w":2.62},
{"x":0.94,"z":-2.19,"w":0.15},{"x":2.81,"z":-2.19,"w":0.46},{"x":4.69,"z":-2.19,"w":0.38},{"x":6.56,"z":-2.19,"w":0.23},{"x":8.44,"z":-2.19,"w":0.23},{"x":10.31,"z":-2.19,"w":0.23},{"x":12.19,"z":-2.19,"w":0.23},{"x":14.06,"z":-2.19,"w":0.23},{"x":15.94,"z":-2.19,"w":0.23},{"x":17.81,"z":-2.19,"w":0.23},{"x":19.69,"z":-2.19,"w":0.23},{"x":21.56,"z":-2.19,"w":0.23},{"x":23.44,"z":-2.19,"w":0.31},{"x":25.31,"z":-2.19,"w":0.46},{"x":27.19,"z":-2.19,"w":0.77},{"x":29.06,"z":-2.19,"w":0.92},{"x":30.94,"z":-2.19,"w":0.38},{"x":32.81,"z":-2.19,"w":0.69},{"x":34.69,"z":-2.19,"w":1.08},{"x":36.56,"z":-2.19,"w":1.08},{"x":38.44,"z":-2.19,"w":1.38},{"x":40.31,"z":-2.19,"w":2.0},{"x":42.19,"z":-2.19,"w":2.62},{"x":44.06,"z":-2.19,"w":2.62},{"x":45.94,"z":-2.19,"w":2.62},{"x":47.81,"z":-2.19,"w":3.23},{"x":49.69,"z":-2.19,"w":3.23},{"x":51.56,"z":-2.19,"w":3.23},{"x":53.44,"z":-2.19,"w":3.23},{"x":55.31,"z":-2.19,"w":2.92},{"x":57.19,"z":-2.19,"w":1.08},{"x":59.06,"z":-2.19,"w":2.77},
{"x":0.94,"z":-2.39,"w":0.15},{"x":2.81,"z":-2.39,"w":0.46},{"x":4.69,"z":-2.39,"w":0.38},{"x":6.56,"z":-2.39,"w":0.23},{"x":8.44,"z":-2.39,"w":0.23},{"x":10.31,"z":-2.39,"w":0.23},{"x":12.19,"z":-2.39,"w":0.23},{"x":14.06,"z":-2.39,"w":0.23},{"x":15.94,"z":-2.39,"w":0.23},{"x":17.81,"z":-2.39,"w":0.23},{"x":19.69,"z":-2.39,"w":0.23},{"x":21.56,"z":-2.39,"w":0.23},{"x":23.44,"z":-2.39,"w":0.31},{"x":25.31,"z":-2.39,"w":0.46},{"x":27.19,"z":-2.39,"w":0.77},{"x":29.06,"z":-2.39,"w":0.92},{"x":30.94,"z":-2.39,"w":0.31},{"x":32.81,"z":-2.39,"w":0.62},{"x":34.69,"z":-2.39,"w":1.08},{"x":36.56,"z":-2.39,"w":1.08},{"x":38.44,"z":-2.39,"w":1.23},{"x":40.31,"z":-2.39,"w":2.0},{"x":42.19,"z":-2.39,"w":2.46},{"x":44.06,"z":-2.39,"w":2.46},{"x":45.94,"z":-2.39,"w":2.46},{"x":47.81,"z":-2.39,"w":3.23},{"x":49.69,"z":-2.39,"w":3.23},{"x":51.56,"z":-2.39,"w":3.23},{"x":53.44,"z":-2.39,"w":3.23},{"x":55.31,"z":-2.39,"w":3.08},{"x":59.06,"z":-2.39,"w":3.54},
{"x":0.94,"z":-2.6,"w":0.15},{"x":2.81,"z":-2.6,"w":0.46},{"x":4.69,"z":-2.6,"w":0.38},{"x":6.56,"z":-2.6,"w":0.23},{"x":8.44,"z":-2.6,"w":0.23},{"x":10.31,"z":-2.6,"w":0.23},{"x":12.19,"z":-2.6,"w":0.23},{"x":14.06,"z":-2.6,"w":0.23},{"x":15.94,"z":-2.6,"w":0.23},{"x":17.81,"z":-2.6,"w":0.23},{"x":19.69,"z":-2.6,"w":0.23},{"x":21.56,"z":-2.6,"w":0.23},{"x":23.44,"z":-2.6,"w":0.31},{"x":25.31,"z":-2.6,"w":0.46},{"x":27.19,"z":-2.6,"w":0.77},{"x":29.06,"z":-2.6,"w":0.92},{"x":30.94,"z":-2.6,"w":0.46},{"x":32.81,"z":-2.6,"w":0.62},{"x":34.69,"z":-2.6,"w":1.08},{"x":36.56,"z":-2.6,"w":1.23},{"x":38.44,"z":-2.6,"w":1.38},{"x":40.31,"z":-2.6,"w":2.0},{"x":42.19,"z":-2.6,"w":2.62},{"x":44.06,"z":-2.6,"w":2.62},{"x":45.94,"z":-2.6,"w":2.62},{"x":47.81,"z":-2.6,"w":3.38},{"x":49.69,"z":-2.6,"w":3.38},{"x":51.56,"z":-2.6,"w":3.38},{"x":53.44,"z":-2.6,"w":3.38},{"x":55.31,"z":-2.6,"w":3.23},{"x":59.06,"z":-2.6,"w":3.85},
{"x":0.94,"z":-2.83,"w":0.15},{"x":2.81,"z":-2.83,"w":0.46},{"x":4.69,"z":-2.83,"w":0.38},{"x":6.56,"z":-2.83,"w":0.23},{"x":8.44,"z":-2.83,"w":0.23},{"x":10.31,"z":-2.83,"w":0.23},{"x":12.19,"z":-2.83,"w":0.23},{"x":14.06,"z":-2.83,"w":0.23},{"x":15.94,"z":-2.83,"w":0.23},{"x":17.81,"z":-2.83,"w":0.23},{"x":19.69,"z":-2.83,"w":0.23},{"x":21.56,"z":-2.83,"w":0.23},{"x":23.44,"z":-2.83,"w":0.31},{"x":25.31,"z":-2.83,"w":0.46},{"x":27.19,"z":-2.83,"w":0.77},{"x":29.06,"z":-2.83,"w":0.92},{"x":30.94,"z":-2.83,"w":0.46},{"x":32.81,"z":-2.83,"w":0.77},{"x":34.69,"z":-2.83,"w":1.08},{"x":36.56,"z":-2.83,"w":1.23},{"x":38.44,"z":-2.83,"w":1.38},{"x":40.31,"z":-2.83,"w":2.15},{"x":42.19,"z":-2.83,"w":2.46},{"x":44.06,"z":-2.83,"w":2.46},{"x":45.94,"z":-2.83,"w":2.46},{"x":47.81,"z":-2.83,"w":3.08},{"x":49.69,"z":-2.83,"w":3.38},{"x":51.56,"z":-2.83,"w":3.38},{"x":53.44,"z":-2.83,"w":3.38},{"x":55.31,"z":-2.83,"w":3.23},{"x":59.06,"z":-2.83,"w":3.85},
{"x":0.94,"z":-3.05,"w":0.15},{"x":2.81,"z":-3.05,"w":0.46},{"x":4.69,"z":-3.05,"w":0.38},{"x":6.56,"z":-3.05,"w":0.23},{"x":8.44,"z":-3.05,"w":0.23},{"x":10.31,"z":-3.05,"w":0.23},{"x":12.19,"z":-3.05,"w":0.23},{"x":14.06,"z":-3.05,"w":0.23},{"x":15.94,"z":-3.05,"w":0.23},{"x":17.81,"z":-3.05,"w":0.23},{"x":19.69,"z":-3.05,"w":0.23},{"x":21.56,"z":-3.05,"w":0.23},{"x":23.44,"z":-3.05,"w":0.31},{"x":25.31,"z":-3.05,"w":0.46},{"x":27.19,"z":-3.05,"w":0.77},{"x":29.06,"z":-3.05,"w":0.77},{"x":30.94,"z":-3.05,"w":0.31},{"x":32.81,"z":-3.05,"w":0.62},{"x":34.69,"z":-3.05,"w":1.08},{"x":36.56,"z":-3.05,"w":1.08},{"x":38.44,"z":-3.05,"w":1.23},{"x":40.31,"z":-3.05,"w":1.85},{"x":42.19,"z":-3.05,"w":2.31},{"x":44.06,"z":-3.05,"w":2.31},{"x":45.94,"z":-3.05,"w":2.31},{"x":47.81,"z":-3.05,"w":3.08},{"x":49.69,"z":-3.05,"w":3.38},{"x":51.56,"z":-3.05,"w":3.38},{"x":53.44,"z":-3.05,"w":3.38},{"x":55.31,"z":-3.05,"w":3.08},{"x":59.06,"z":-3.05,"w":3.69},
{"x":0.94,"z":-3.28,"w":0.15},{"x":2.81,"z":-3.28,"w":0.46},{"x":4.69,"z":-3.28,"w":0.38},{"x":6.56,"z":-3.28,"w":0.23},{"x":8.44,"z":-3.28,"w":0.23},{"x":10.31,"z":-3.28,"w":0.23},{"x":12.19,"z":-3.28,"w":0.23},{"x":14.06,"z":-3.28,"w":0.23},{"x":15.94,"z":-3.28,"w":0.23},{"x":17.81,"z":-3.28,"w":0.23},{"x":19.69,"z":-3.28,"w":0.23},{"x":21.56,"z":-3.28,"w":0.23},{"x":23.44,"z":-3.28,"w":0.31},{"x":25.31,"z":-3.28,"w":0.46},{"x":27.19,"z":-3.28,"w":0.62},{"x":29.06,"z":-3.28,"w":0.77},{"x":30.94,"z":-3.28,"w":0.31},{"x":32.81,"z":-3.28,"w":0.46},{"x":34.69,"z":-3.28,"w":0.92},{"x":36.56,"z":-3.28,"w":0.92},{"x":38.44,"z":-3.28,"w":1.08},{"x":40.31,"z":-3.28,"w":1.54},{"x":42.19,"z":-3.28,"w":2.0},{"x":44.06,"z":-3.28,"w":2.0},{"x":45.94,"z":-3.28,"w":2.0},{"x":47.81,"z":-3.28,"w":2.77},{"x":49.69,"z":-3.28,"w":3.38},{"x":51.56,"z":-3.28,"w":3.38},{"x":53.44,"z":-3.28,"w":3.08},{"x":55.31,"z":-3.28,"w":2.77},{"x":59.06,"z":-3.28,"w":3.54},
{"x":0.94,"z":-3.52,"w":0.15},{"x":2.81,"z":-3.52,"w":0.46},{"x":4.69,"z":-3.52,"w":0.38},{"x":6.56,"z":-3.52,"w":0.23},{"x":8.44,"z":-3.52,"w":0.23},{"x":10.31,"z":-3.52,"w":0.23},{"x":12.19,"z":-3.52,"w":0.23},{"x":14.06,"z":-3.52,"w":0.23},{"x":15.94,"z":-3.52,"w":0.23},{"x":17.81,"z":-3.52,"w":0.23},{"x":19.69,"z":-3.52,"w":0.23},{"x":21.56,"z":-3.52,"w":0.23},{"x":23.44,"z":-3.52,"w":0.31},{"x":25.31,"z":-3.52,"w":0.31},{"x":27.19,"z":-3.52,"w":0.46},{"x":29.06,"z":-3.52,"w":0.46},{"x":30.94,"z":-3.52,"w":0.31},{"x":32.81,"z":-3.52,"w":0.31},{"x":34.69,"z":-3.52,"w":0.62},{"x":36.56,"z":-3.52,"w":0.77},{"x":38.44,"z":-3.52,"w":0.92},{"x":40.31,"z":-3.52,"w":1.23},{"x":42.19,"z":-3.52,"w":1.85},{"x":44.06,"z":-3.52,"w":1.85},{"x":45.94,"z":-3.52,"w":1.85},{"x":47.81,"z":-3.52,"w":2.31},{"x":49.69,"z":-3.52,"w":2.77},{"x":51.56,"z":-3.52,"w":3.08},{"x":53.44,"z":-3.52,"w":2.77},{"x":55.31,"z":-3.52,"w":2.31},{"x":59.06,"z":-3.52,"w":3.38},
{"x":0.94,"z":-3.77,"w":0.15},{"x":2.81,"z":-3.77,"w":0.46},{"x":4.69,"z":-3.77,"w":0.38},{"x":6.56,"z":-3.77,"w":0.23},{"x":8.44,"z":-3.77,"w":0.23},{"x":10.31,"z":-3.77,"w":0.23},{"x":12.19,"z":-3.77,"w":0.23},{"x":14.06,"z":-3.77,"w":0.23},{"x":15.94,"z":-3.77,"w":0.23},{"x":17.81,"z":-3.77,"w":0.23},{"x":19.69,"z":-3.77,"w":0.23},{"x":21.56,"z":-3.77,"w":0.23},{"x":23.44,"z":-3.77,"w":0.31},{"x":25.31,"z":-3.77,"w":0.31},{"x":27.19,"z":-3.77,"w":0.31},{"x":29.06,"z":-3.77,"w":0.31},{"x":30.94,"z":-3.77,"w":0.31},{"x":32.81,"z":-3.77,"w":0.31},{"x":34.69,"z":-3.77,"w":0.46},{"x":36.56,"z":-3.77,"w":0.46},{"x":38.44,"z":-3.77,"w":0.77},{"x":40.31,"z":-3.77,"w":0.92},{"x":42.19,"z":-3.77,"w":1.54},{"x":44.06,"z":-3.77,"w":1.54},{"x":45.94,"z":-3.77,"w":1.54},{"x":47.81,"z":-3.77,"w":1.85},{"x":49.69,"z":-3.77,"w":2.31},{"x":51.56,"z":-3.77,"w":2.31},{"x":53.44,"z":-3.77,"w":2.31},{"x":59.06,"z":-3.77,"w":2.77},
{"x":0.94,"z":-4.01,"w":0.15},{"x":2.81,"z":-4.01,"w":0.31},{"x":4.69,"z":-4.01,"w":0.31},{"x":6.56,"z":-4.01,"w":0.15},{"x":8.44,"z":-4.01,"w":0.15},{"x":10.31,"z":-4.01,"w":0.15},{"x":12.19,"z":-4.01,"w":0.15},{"x":14.06,"z":-4.01,"w":0.15},{"x":15.94,"z":-4.01,"w":0.15},{"x":17.81,"z":-4.01,"w":0.15},{"x":19.69,"z":-4.01,"w":0.15},{"x":21.56,"z":-4.01,"w":0.15},{"x":23.44,"z":-4.01,"w":0.15},{"x":25.31,"z":-4.01,"w":0.15},{"x":27.19,"z":-4.01,"w":0.31},{"x":29.06,"z":-4.01,"w":0.15},{"x":30.94,"z":-4.01,"w":0.15},{"x":32.81,"z":-4.01,"w":0.31},{"x":34.69,"z":-4.01,"w":0.46},{"x":36.56,"z":-4.01,"w":0.46},{"x":38.44,"z":-4.01,"w":0.46},{"x":40.31,"z":-4.01,"w":0.62},{"x":42.19,"z":-4.01,"w":1.23},{"x":44.06,"z":-4.01,"w":1.23},{"x":45.94,"z":-4.01,"w":1.23},{"x":47.81,"z":-4.01,"w":1.54},
{"x":0.94,"z":-4.25,"w":0.15},{"x":2.81,"z":-4.25,"w":0.31},{"x":4.69,"z":-4.25,"w":0.31},{"x":6.56,"z":-4.25,"w":0.15},{"x":8.44,"z":-4.25,"w":0.15},{"x":10.31,"z":-4.25,"w":0.15},{"x":12.19,"z":-4.25,"w":0.15},{"x":14.06,"z":-4.25,"w":0.15},{"x":15.94,"z":-4.25,"w":0.15},{"x":17.81,"z":-4.25,"w":0.15},{"x":19.69,"z":-4.25,"w":0.15},{"x":21.56,"z":-4.25,"w":0.15},{"x":23.44,"z":-4.25,"w":0.15},{"x":25.31,"z":-4.25,"w":0.15},{"x":27.19,"z":-4.25,"w":0.15},{"x":29.06,"z":-4.25,"w":0.15},{"x":30.94,"z":-4.25,"w":0.15},{"x":32.81,"z":-4.25,"w":0.15},{"x":34.69,"z":-4.25,"w":0.23},{"x":36.56,"z":-4.25,"w":0.31},{"x":38.44,"z":-4.25,"w":0.31},{"x":40.31,"z":-4.25,"w":0.46},{"x":42.19,"z":-4.25,"w":0.46},{"x":44.06,"z":-4.25,"w":0.46},{"x":45.94,"z":-4.25,"w":0.62}
],
"tilted":[{"x":57.19,"z":-2.39,"w":1.23,"a":10},{"x":57.19,"z":-2.6,"w":1.23,"a":10},{"x":57.19,"z":-2.83,"w":1.38,"a":10},{"x":57.19,"z":-3.05,"w":1.23,"a":10},{"x":57.19,"z":-3.28,"w":1.23,"a":10},{"x":57.19,"z":-3.52,"w":1.23,"a":10},{"x":55.31,"z":-3.77,"w":1.85,"a":10},{"x":57.19,"z":-3.77,"w":1.23,"a":25},{"x":49.69,"z":-4.01,"w":1.85,"a":10},{"x":51.56,"z":-4.01,"w":1.85,"a":15},{"x":53.44,"z":-4.01,"w":1.54,"a":20},{"x":55.31,"z":-4.01,"w":1.54,"a":25},{"x":57.19,"z":-4.01,"w":1.23,"a":30},{"x":59.06,"z":-4.01,"w":2.31,"a":10},{"x":47.81,"z":-4.25,"w":0.77,"a":15},{"x":49.69,"z":-4.25,"w":0.92,"a":25},{"x":51.56,"z":-4.25,"w":0.92,"a":30},{"x":53.44,"z":-4.25,"w":1.23,"a":35},{"x":55.31,"z":-4.25,"w":1.23,"a":35},{"x":57.19,"z":-4.25,"w":1.23,"a":40},{"x":59.06,"z":-4.25,"w":1.54,"a":30}],
"contours":[
{"c":1,"o":0,"x":3.75,"z":0},{"c":1,"o":1,"x":3.75,"z":-0.53},{"c":1,"o":2,"x":3.0,"z":-0.59},{"c":1,"o":3,"x":1.83,"z":-0.62},{"c":1,"o":4,"x":1.7,"z":-0.75},{"c":1,"o":5,"x":1.54,"z":-1.16},{"c":1,"o":6,"x":1.3,"z":-1.45},{"c":1,"o":7,"x":1.25,"z":-1.8},{"c":1,"o":8,"x":1.25,"z":-2.92},{"c":1,"o":9,"x":1.83,"z":-3.18},{"c":1,"o":10,"x":1.7,"z":-3.8},{"c":1,"o":11,"x":1.63,"z":-4.5},
{"c":2,"o":0,"x":6.92,"z":0},{"c":2,"o":1,"x":6.92,"z":-0.73},{"c":2,"o":2,"x":7.8,"z":-0.84},{"c":2,"o":3,"x":8.37,"z":-0.95},{"c":2,"o":4,"x":8.37,"z":-1.08},{"c":2,"o":5,"x":8.37,"z":-0.95},{"c":2,"o":6,"x":8.95,"z":-0.84},{"c":2,"o":7,"x":9.9,"z":-0.73},{"c":2,"o":8,"x":9.9,"z":0},
{"c":3,"o":0,"x":38.08,"z":0},{"c":3,"o":1,"x":38.08,"z":-2.92},{"c":3,"o":2,"x":37.6,"z":-3.15},{"c":3,"o":3,"x":37.2,"z":-3.38},{"c":3,"o":4,"x":37.3,"z":-3.8},{"c":3,"o":5,"x":37.4,"z":-4.14},{"c":3,"o":6,"x":37.8,"z":-4.4},{"c":3,"o":7,"x":37.8,"z":-4.5},
{"c":4,"o":0,"x":46.83,"z":0},{"c":4,"o":1,"x":46.83,"z":-2.955},{"c":4,"o":2,"x":46.54,"z":-3.15},{"c":4,"o":3,"x":46.7,"z":-3.86},{"c":4,"o":4,"x":47.1,"z":-4.14},{"c":4,"o":5,"x":47.8,"z":-4.36},{"c":4,"o":6,"x":47.8,"z":-4.5},
{"c":5,"o":0,"x":55.38,"z":0},{"c":5,"o":1,"x":55.38,"z":-2.9},{"c":5,"o":2,"x":53.65,"z":-3.1},{"c":5,"o":3,"x":52.1,"z":-3.28},{"c":5,"o":4,"x":51.44,"z":-3.56},{"c":5,"o":5,"x":51.15,"z":-3.86},{"c":5,"o":6,"x":51.9,"z":-4.14},{"c":5,"o":7,"x":52.7,"z":-4.36},{"c":5,"o":8,"x":52.7,"z":-4.5},
{"c":6,"o":0,"x":60,"z":-3.52},{"c":6,"o":1,"x":57.2,"z":-3.56},{"c":6,"o":2,"x":55.58,"z":-3.73},{"c":6,"o":3,"x":54.13,"z":-3.89},{"c":6,"o":4,"x":54.13,"z":-4.14},{"c":6,"o":5,"x":55.48,"z":-4.36},{"c":6,"o":6,"x":55.48,"z":-4.5},
{"c":7,"o":0,"x":60,"z":-3.92},{"c":7,"o":1,"x":59.13,"z":-3.92},{"c":7,"o":2,"x":56.9,"z":-4.04},{"c":7,"o":3,"x":56.54,"z":-4.19},{"c":7,"o":4,"x":57.7,"z":-4.34},{"c":7,"o":5,"x":58.17,"z":-4.5}],
"clabels":[{"x":3.8,"z":-0.477,"t":"0.01"},{"x":37.7,"z":-3.758,"t":"0.02"},{"x":47.26,"z":-0.4015,"t":"0.03"},{"x":55.48,"z":-2.045,"t":"0.04"},{"x":54.9,"z":-4.25,"t":"0.05"}],
"keyw":[{"x":4.42,"z":-5.273,"w":2}],
"keyu":[{"x":40.96,"z":-5.265,"u":0.2}],
"keytext":[{"x":7.31,"z":-5.326,"t":"2x10"},{"x":16.63,"z":-5.326,"t":"cm/s"},{"x":46.92,"z":-5.333,"t":"0.2 cm/s"}],
"keysup":[{"x":13.94,"z":-5.215,"t":"-4"}]
},
"layer":[
{"data":{"name":"gray"},"mark":{"type":"rect","fill":"#b4b4b4","clip":false},
 "encoding":{
  "x":{"field":"x","type":"quantitative","scale":{"domain":[0,60],"nice":false,"zero":false},
   "axis":{"orient":"bottom","values":[0,10,20,30,40,50,60],"labelExpr":"datum.value == 0 ? '0°' : (datum.value % 20 == 0 ? datum.value + '°E' : '')","labelOffset":{"condition":{"test":"datum.value == 0","value":8},"value":19},"labelPadding":18,"title":"Longitude","titlePadding":-2}},
  "x2":{"field":"x2"},
  "y":{"field":"z","type":"quantitative","scale":{"domain":[-4.5,0],"nice":false,"zero":false},
   "axis":{"orient":"left","values":[-4.5,-4,-3.5,-3,-2.5,-2,-1.5,-1,-0.5,0],"labelExpr":"datum.value % 1 == 0 ? (datum.value == 0 ? '0' : '-' + abs(datum.value)) : ''","labelPadding":21,"title":"Depth (km)","titlePadding":6}},
  "y2":{"field":"z2"}}},
{"data":{"name":"vgrid"},"mark":{"type":"rule","color":"#c9c9c9","strokeWidth":1},
 "encoding":{"x":{"field":"x","type":"quantitative","axis":null},"y":{"field":"z","type":"quantitative","axis":null},"y2":{"field":"z2"}}},
{"data":{"name":"hgrid"},"mark":{"type":"rule","color":"#c9c9c9","strokeWidth":1,"clip":false},
 "encoding":{"y":{"field":"z","type":"quantitative","axis":null},"x":{"field":"x","type":"quantitative","axis":null},"x2":{"field":"x2"}}},
{"data":{"name":"bar"},"mark":{"type":"rect","fill":"white"},
 "encoding":{"x":{"field":"x","type":"quantitative","axis":null},"x2":{"field":"x2"},"y":{"field":"z","type":"quantitative","axis":null},"y2":{"field":"z2"}}},
{"data":{"name":"arrows"},"mark":{"type":"point","shape":"M0,0L0,1.45M-0.22,1.38L0,2L0.22,1.38Z","filled":true,"fill":"#111","stroke":"#111","strokeWidth":1.5,"opacity":1},
 "encoding":{"x":{"field":"x","type":"quantitative","axis":null},"y":{"field":"z","type":"quantitative","axis":null},
  "size":{"field":"w","type":"quantitative","scale":{"type":"pow","exponent":2,"domain":[0,4],"range":[0,676]},"legend":null}}},
{"data":{"name":"tilted"},"mark":{"type":"point","shape":"M0,0L0,1.45M-0.22,1.38L0,2L0.22,1.38Z","filled":true,"fill":"#111","stroke":"#111","strokeWidth":1.5,"opacity":1},
 "encoding":{"x":{"field":"x","type":"quantitative","axis":null},"y":{"field":"z","type":"quantitative","axis":null},
  "size":{"field":"w","type":"quantitative","scale":{"type":"pow","exponent":2,"domain":[0,4],"range":[0,676]},"legend":null},
  "angle":{"field":"a","type":"quantitative","scale":null}}},
{"data":{"name":"contours"},"mark":{"type":"line","color":"#404040","strokeWidth":3.5,"strokeCap":"round","strokeJoin":"round"},
 "encoding":{
  "x":{"field":"x","type":"quantitative","axis":{"orient":"top","values":[0,10,20,30,40,50,60],"labels":false,"title":null}},
  "y":{"field":"z","type":"quantitative","axis":{"orient":"right","values":[-4.5,-4,-3.5,-3,-2.5,-2,-1.5,-1,-0.5,0],"labels":false,"title":null}},
  "detail":{"field":"c","type":"nominal"},"order":{"field":"o","type":"quantitative"}}},
{"data":{"name":"clabels"},"mark":{"type":"text","font":"Liberation Sans","fontSize":30,"color":"#1a1a1a","align":"center","baseline":"alphabetic"},
 "encoding":{"x":{"field":"x","type":"quantitative","axis":null},"y":{"field":"z","type":"quantitative","axis":null},"text":{"field":"t"}}},
{"data":{"name":"keyw"},"mark":{"type":"point","shape":"M0,0L0,1.45M-0.2,1.38L0,2L0.2,1.38Z","filled":true,"fill":"#111","stroke":"#111","strokeWidth":1.2,"opacity":1,"angle":180,"clip":false},
 "encoding":{"x":{"field":"x","type":"quantitative","axis":null},"y":{"field":"z","type":"quantitative","axis":null},
  "size":{"field":"w","type":"quantitative","scale":{"type":"pow","exponent":2,"domain":[0,4],"range":[0,676]},"legend":null}}},
{"data":{"name":"keyu"},"mark":{"type":"point","shape":"M0,0L0,1.6M-0.12,1.55L0,2L0.12,1.55Z","filled":true,"fill":"#111","stroke":"#111","strokeWidth":1.2,"opacity":1,"angle":270,"clip":false},
 "encoding":{"x":{"field":"x","type":"quantitative","axis":null},"y":{"field":"z","type":"quantitative","axis":null},
  "size":{"field":"u","type":"quantitative","scale":{"type":"pow","exponent":2,"domain":[0,0.2],"range":[0,1024]},"legend":null}}},
{"data":{"name":"keytext"},"mark":{"type":"text","font":"Liberation Sans","fontSize":31,"color":"#111","align":"left","baseline":"alphabetic","clip":false},
 "encoding":{"x":{"field":"x","type":"quantitative","axis":null},"y":{"field":"z","type":"quantitative","axis":null},"text":{"field":"t"}}},
{"data":{"name":"keysup"},"mark":{"type":"text","font":"Liberation Sans","fontSize":21,"color":"#111","align":"left","baseline":"alphabetic","clip":false},
 "encoding":{"x":{"field":"x","type":"quantitative","axis":null},"y":{"field":"z","type":"quantitative","axis":null},"text":{"field":"t"}}}
],
"resolve":{"scale":{"size":"independent"},"axis":{"x":"independent","y":"independent"}}
}
